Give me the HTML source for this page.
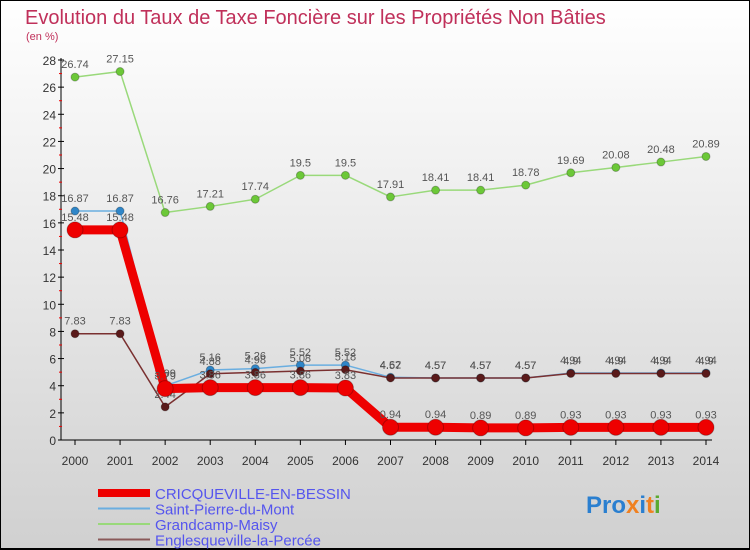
<!DOCTYPE html>
<html><head><meta charset="utf-8"><style>
body{margin:0;}
#wrap{width:750px;height:550px;position:relative;overflow:hidden;background:linear-gradient(#ffffff,#d0d0d0);font-family:"Liberation Sans",sans-serif;}
</style></head><body>
<div id="wrap">
<svg id="chart" width="750" height="550" xmlns="http://www.w3.org/2000/svg">
<rect x="0.5" y="0.5" width="749" height="548" fill="none" stroke="#000"/>
<line x1="0" y1="549" x2="750" y2="549" stroke="#000" stroke-width="2"/>
<text x="25" y="24" font-size="20" fill="#c0305a">Evolution du Taux de Taxe Foncière sur les Propriétés Non Bâties</text>
<text x="26" y="40" font-size="11" fill="#c0305a">(en %)</text>
<g id="axes"></g>
<g id="series"></g>
<g id="legend"></g>
<text x="586" y="513" font-size="24" font-weight="bold"><tspan fill="#2a7fd0">Pro</tspan><tspan fill="#f08020">x</tspan><tspan fill="#2a7fd0">i</tspan><tspan fill="#f08020">t</tspan><tspan fill="#5aaa30">i</tspan></text>
</svg>
</div>
<script>
const years=[2000,2001,2002,2003,2004,2005,2006,2007,2008,2009,2010,2011,2012,2013,2014];
const yTicks=[0,2,4,6,8,10,12,14,16,18,20,22,24,26,28];
const cricqueville=[15.48,15.48,3.79,3.86,3.86,3.86,3.83,0.94,0.94,0.89,0.89,0.93,0.93,0.93,0.93];
const saintPierre=[16.87,16.87,3.99,5.16,5.26,5.52,5.52,4.62,4.57,4.57,4.57,4.94,4.94,4.94,4.94];
const grandcamp=[26.74,27.15,16.76,17.21,17.74,19.5,19.5,17.91,18.41,18.41,18.78,19.69,20.08,20.48,20.89];
const englesqueville=[7.83,7.83,2.44,4.88,4.98,5.08,5.18,4.57,4.57,4.57,4.57,4.9,4.9,4.9,4.9];
const seriesNames=["CRICQUEVILLE-EN-BESSIN","Saint-Pierre-du-Mont","Grandcamp-Maisy","Englesqueville-la-Percée"];

const NS="http://www.w3.org/2000/svg";
const X0=75,X1=706,Y0=440,Y1=60,YMAX=28;
function xs(i){return X0+(X1-X0)*i/(years.length-1);}
function ys(v){return Y0-(Y0-Y1)*v/YMAX;}
function mk(tag,attrs,parent){const e=document.createElementNS(NS,tag);for(const k in attrs)e.setAttribute(k,attrs[k]);parent.appendChild(e);return e;}
const axes=document.getElementById('axes');
let yl=mk('line',{x1:61,y1:Y0,x2:61,y2:Y1-2,stroke:'#000'},axes);


let xl=mk('line',{x1:61,y1:Y0,x2:X1+6,y2:Y0,stroke:'#000'},axes);


yTicks.forEach(t=>{
  const y=ys(t);
  mk('line',{x1:58,y1:y,x2:64,y2:y,stroke:'#000'},axes);
  if(t<YMAX)mk('line',{x1:59,y1:ys(t+1),x2:62,y2:ys(t+1),stroke:'#e00'},axes);
  const tx=mk('text',{x:56,y:y+5,'font-size':12,'text-anchor':'end',fill:'#333'},axes);
  tx.textContent=t;
  
  
});
years.forEach((yr,i)=>{
  const x=xs(i);
  mk('line',{x1:x,y1:Y0,x2:x,y2:Y0+5,stroke:'#000'},axes);
  const tx=mk('text',{x:x,y:Y0+25,'font-size':12,'text-anchor':'middle',fill:'#333'},axes);
  tx.textContent=yr;
  
  
});
const sg=document.getElementById('series');
function drawSeries(vals,color,dot,width,r,name){
  const g=mk('g',{},sg);
  
  
  const pts=vals.map((v,i)=>xs(i)+','+ys(v)).join(' ');
  mk('polyline',{points:pts,fill:'none',stroke:color,'stroke-width':width,'stroke-linejoin':'round'},g);
  vals.forEach((v,i)=>{
    const c=mk('circle',{cx:xs(i),cy:ys(v),r:r,fill:dot,stroke:'rgba(0,0,0,0.25)'},g);
    
    
    const t=mk('text',{x:xs(i),y:ys(v)-9,'font-size':11,'text-anchor':'middle',fill:'#555'},g);
    t.textContent=v;
    
    
  });
}
drawSeries(grandcamp,'#99d97a','#6cc838',1.5,4,'series-grandcamp-maisy');
drawSeries(saintPierre,'#6aaee0','#2f86c8',1.5,4,'series-saint-pierre-du-mont');
drawSeries(englesqueville,'#7a3030','#5a1a1a',1.5,4,'series-englesqueville-la-percee');
drawSeries(cricqueville,'#ee0000','#ee0000',9,8,'series-cricqueville-en-bessin');
const lg=document.getElementById('legend');
const lcol=['#ee0000','#6aaee0','#99d97a','#8a5a5a'];
const lw=[8,2,2,2];
seriesNames.forEach((n,i)=>{
  const y=493+i*15.5;
  const g=mk('g',{},lg);
  
  
  mk('line',{x1:98,y1:y,x2:150,y2:y,stroke:lcol[i],'stroke-width':lw[i]},g);
  const t=mk('text',{x:155,y:y+6,'font-size':15,fill:'#5555ee'},g);
  t.textContent=n;
});
</script>
</body></html>
